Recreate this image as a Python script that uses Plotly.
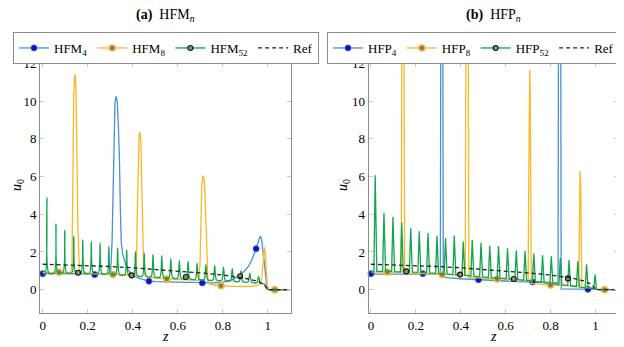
import plotly.graph_objects as go

# ---------------- data ----------------
# panel (a) HFM_n
hfm4_x = [0, 0.1, 0.2, 0.28, 0.295, 0.302, 0.308, 0.312, 0.317, 0.321, 0.326, 0.331, 0.336, 0.341,
          0.345, 0.349, 0.355, 0.361, 0.37, 0.379, 0.39, 0.409, 0.43, 0.468, 0.5, 0.6, 0.7, 0.76,
          0.8, 0.84, 0.87, 0.895, 0.914, 0.93, 0.947, 0.958, 0.966, 0.972, 0.978, 0.984, 0.99,
          0.996, 1.004, 1.1]
hfm4_y = [0.85, 0.83, 0.82, 0.83, 0.9, 1.0, 2.5, 5.5, 8.5, 9.9, 10.25, 10.0, 8.7, 6.9,
          4.2, 2.5, 1.9, 1.6, 1.3, 1.06, 0.88, 0.71, 0.6, 0.47, 0.43, 0.4, 0.36, 0.36,
          0.4, 0.52, 0.71, 0.98, 1.24, 1.6, 2.16, 2.6, 2.83, 2.7, 2.1, 1.3, 0.6,
          0.18, 0, 0]

hfm8_x = [0, 0.07, 0.125, 0.13, 0.133, 0.136, 0.138, 0.142, 0.145, 0.148, 0.15, 0.153, 0.156,
          0.159, 0.163, 0.2, 0.31, 0.405, 0.413, 0.417, 0.42, 0.424, 0.428, 0.432, 0.436, 0.44,
          0.444, 0.448, 0.453, 0.47, 0.5, 0.55, 0.62, 0.69, 0.695, 0.699, 0.703, 0.707, 0.712,
          0.717, 0.721, 0.725, 0.729, 0.734, 0.74, 0.79, 0.85, 0.9, 0.95, 0.965, 0.972, 0.977,
          0.981, 0.985, 0.989, 0.993, 0.997, 1.003, 1.1]
hfm8_y = [0.92, 0.92, 0.9, 1.3, 4.5, 8.5, 10.3, 11.3, 11.4, 10.5, 9.5, 6.5, 3.5,
          1.5, 1.0, 0.86, 0.8, 0.78, 0.8, 1.5, 4.0, 7.0, 8.2, 8.35, 7.8, 5.5,
          3.0, 1.4, 0.8, 0.66, 0.62, 0.57, 0.53, 0.5, 0.5, 1.5, 4.2, 5.6, 6.05,
          5.9, 5.0, 3.5, 1.5, 0.5, 0.3, 0.21, 0.18, 0.17, 0.2, 0.3, 0.5, 1.3,
          2.1, 2.25, 1.9, 1.0, 0.3, 0.02, 0]

hfm52_x = [0, 0.011, 0.019, 0.027, 0.051, 0.059, 0.067, 0.09, 0.098, 0.106, 0.13, 0.138, 0.146,
           0.17, 0.178, 0.186, 0.208, 0.216, 0.224, 0.247, 0.255, 0.263, 0.286, 0.294, 0.302,
           0.325, 0.333, 0.341, 0.365, 0.373, 0.381, 0.404, 0.412, 0.42, 0.443, 0.451, 0.459,
           0.482, 0.49, 0.498, 0.521, 0.529, 0.537, 0.561, 0.569, 0.577, 0.599, 0.607, 0.615,
           0.638, 0.646, 0.654, 0.678, 0.686, 0.694, 0.717, 0.725, 0.733, 0.756, 0.764, 0.772,
           0.795, 0.803, 0.811, 0.834, 0.842, 0.85, 0.873, 0.881, 0.889, 0.912, 0.92, 0.928,
           0.951, 0.959, 0.967, 0.985, 0.995, 1.003, 1.1]
hfm52_y = [0.85, 0.85, 4.86, 0.88, 0.88, 3.48, 0.9, 0.9, 3.15, 0.9, 0.9, 2.83, 0.9,
           0.89, 2.65, 0.89, 0.88, 2.56, 0.88, 0.86, 2.48, 0.86, 0.84, 2.3, 0.83,
           0.82, 2.21, 0.81, 0.79, 2.12, 0.78, 0.76, 2.02, 0.75, 0.73, 1.95, 0.72,
           0.7, 1.87, 0.69, 0.67, 1.8, 0.66, 0.64, 1.63, 0.63, 0.61, 1.54, 0.6,
           0.59, 1.5, 0.58, 0.56, 1.41, 0.55, 0.54, 1.33, 0.53, 0.52, 1.27, 0.51,
           0.5, 1.2, 0.49, 0.47, 1.11, 0.46, 0.44, 1.01, 0.43, 0.41, 0.88, 0.4,
           0.37, 0.71, 0.35, 0.3, 0.05, 0, 0]

# panel (b) HFP_n
hfp4_x = [0, 0.1, 0.2, 0.3, 0.309, 0.311, 0.32, 0.322, 0.35, 0.4, 0.48, 0.55, 0.65, 0.72, 0.8,
          0.833, 0.835, 0.845, 0.847, 0.9, 0.966, 0.99, 1.0, 1.1]
hfp4_y = [0.83, 0.83, 0.83, 0.83, 0.83, 14, 14, 0.68, 0.63, 0.58, 0.52, 0.47, 0.43, 0.41, 0.38,
          0.37, 14, 14, 0.04, 0.03, 0.02, 0.01, 0, 0]

hfp8_x = [0, 0.07, 0.135, 0.138, 0.147, 0.15, 0.2, 0.317, 0.42, 0.423, 0.433, 0.436, 0.5, 0.562,
          0.65, 0.7, 0.702, 0.705, 0.707, 0.709, 0.712, 0.714, 0.75, 0.8, 0.88, 0.925, 0.928,
          0.931, 0.934, 0.937, 0.939, 0.97, 0.99, 1.0, 1.04, 1.1]
hfp8_y = [0.93, 0.93, 0.92, 14, 14, 0.88, 0.86, 0.8, 0.78, 14, 14, 0.66, 0.62, 0.57,
          0.52, 0.5, 5, 11.0, 11.65, 10.5, 4, 0.33, 0.3, 0.25, 0.22, 0.2, 3,
          6.3, 5.5, 2, 0.12, 0.1, 0.08, 0.02, 0, 0]

hfp52_x = [0, 0.013, 0.019, 0.026, 0.052, 0.058, 0.065, 0.092, 0.098, 0.105, 0.131, 0.137, 0.144,
           0.171, 0.177, 0.184, 0.209, 0.215, 0.222, 0.248, 0.254, 0.261, 0.288, 0.294, 0.301,
           0.326, 0.332, 0.339, 0.365, 0.371, 0.378, 0.405, 0.411, 0.418, 0.445, 0.451, 0.458,
           0.484, 0.49, 0.497, 0.523, 0.529, 0.536, 0.562, 0.568, 0.575, 0.602, 0.608, 0.615,
           0.641, 0.647, 0.654, 0.68, 0.686, 0.693, 0.719, 0.725, 0.732, 0.758, 0.764, 0.771,
           0.797, 0.803, 0.81, 0.837, 0.843, 0.85, 0.876, 0.882, 0.889, 0.915, 0.921, 0.928,
           0.954, 0.96, 0.967, 0.992, 0.998, 1.004, 1.012, 1.1]
hfp52_y = [0.95, 0.95, 6.06, 0.97, 0.97, 4.07, 0.97, 0.97, 3.86, 0.96, 0.95, 3.57, 0.95,
           0.94, 3.26, 0.93, 0.92, 3.1, 0.91, 0.9, 3.0, 0.89, 0.87, 2.86, 0.86,
           0.84, 2.74, 0.83, 0.8, 2.87, 0.79, 0.77, 2.56, 0.76, 0.73, 2.65, 0.72,
           0.69, 2.49, 0.68, 0.65, 2.32, 0.64, 0.62, 2.32, 0.61, 0.58, 2.2, 0.57,
           0.54, 2.07, 0.53, 0.5, 2.05, 0.49, 0.45, 1.92, 0.44, 0.4, 1.82, 0.38,
           0.34, 1.77, 0.32, 0.28, 1.68, 0.26, 0.22, 1.57, 0.2, 0.16, 1.52, 0.14,
           0.11, 1.35, 0.09, 0.06, 0.8, 0.02, 0, 0]

# reference solution (same in both panels)
ref_x = [0, 0.1, 0.2, 0.3, 0.4, 0.5, 0.6, 0.7, 0.8, 0.9, 0.95, 0.98, 0.995, 1.0, 1.1]
ref_y = [1.35, 1.32, 1.28, 1.23, 1.16, 1.08, 0.99, 0.89, 0.78, 0.6, 0.46, 0.3, 0.1, 0, 0]

# marker positions
hfm4_mx, hfm4_my = [0, 0.231, 0.472, 0.709, 0.948], [0.85, 0.8, 0.45, 0.36, 2.17]
hfm8_mx, hfm8_my = [0.072, 0.312, 0.551, 0.792, 1.03], [0.92, 0.8, 0.57, 0.21, 0.0]
hfm52_mx, hfm52_my = [0.157, 0.395, 0.636, 0.877], [0.9, 0.76, 0.67, 0.71]
hfp4_mx, hfp4_my = [0, 0.231, 0.479, 0.72, 0.966], [0.85, 0.85, 0.53, 0.41, 0.02]
hfp8_mx, hfp8_my = [0.073, 0.317, 0.562, 0.80, 1.04], [0.94, 0.8, 0.57, 0.25, 0.0]
hfp52_mx, hfp52_my = [0.157, 0.397, 0.636, 0.877], [0.97, 0.8, 0.57, 0.6]

xticks = [0, 0.2, 0.4, 0.6, 0.8, 1]
xtick_text = ['0', '0.2', '0.4', '0.6', '0.8', '1']
yticks = [0, 2, 4, 6, 8, 10, 12]

# ---------------- styles ----------------
FONT = 'Liberation Serif, DejaVu Serif, serif'
BLUE, ORANGE, GREEN = '#4a90d4', '#fbb726', '#10a64e'
W, H = 624, 347
OFF = 8                      # the page body adds an 8px margin around the figure
FW, FH = W - OFF, H - OFF


def px(p):                   # screen x pixel -> paper fraction
    return (p - OFF) / FW


def py(p):                   # screen y pixel -> paper fraction
    return 1 - (p - OFF) / FH


blue_mk = dict(symbol='circle', size=6, color='#1212b8', line=dict(color='#3a5fd0', width=1))
orange_mk = dict(symbol='circle', size=6, color='#7a7a7a', line=dict(color=ORANGE, width=1.5))
green_mk = dict(symbol='circle', size=5, color='#8c946a', line=dict(color='#111111', width=1.1))

fig = go.Figure()


def add_panel(xa, ya, leg, names, series, markers, green_shape):
    colors = [BLUE, ORANGE, GREEN]
    mks = [blue_mk, orange_mk, green_mk]
    shapes = ['linear', 'linear', green_shape]
    for (sx, sy), (mx, my), c, mk, nm, shp in zip(series, markers, colors, mks, names, shapes):
        fig.add_trace(go.Scatter(x=sx, y=sy, mode='lines',
                                 line=dict(color=c, width=1.3, shape=shp, smoothing=0.7),
                                 xaxis=xa, yaxis=ya, showlegend=False, hoverinfo='skip'))
        fig.add_trace(go.Scatter(x=mx, y=my, mode='markers', marker=mk, cliponaxis=False,
                                 xaxis=xa, yaxis=ya, showlegend=False, hoverinfo='skip'))
        fig.add_trace(go.Scatter(x=[None], y=[None], mode='lines+markers', name=nm,
                                 line=dict(color=c, width=1.3), marker=mk,
                                 xaxis=xa, yaxis=ya, legend=leg))
    fig.add_trace(go.Scatter(x=ref_x, y=ref_y, mode='lines', name='Ref',
                             line=dict(color='#222222', width=1.3, dash='4px,3px'),
                             xaxis=xa, yaxis=ya, legend=leg, hoverinfo='skip'))


add_panel('x', 'y', 'legend',
          ['HFM<sub>4</sub>', 'HFM<sub>8</sub>', 'HFM<sub>52</sub>'],
          [(hfm4_x, hfm4_y), (hfm8_x, hfm8_y), (hfm52_x, hfm52_y)],
          [(hfm4_mx, hfm4_my), (hfm8_mx, hfm8_my), (hfm52_mx, hfm52_my)], 'spline')
add_panel('x2', 'y2', 'legend2',
          ['HFP<sub>4</sub>', 'HFP<sub>8</sub>', 'HFP<sub>52</sub>'],
          [(hfp4_x, hfp4_y), (hfp8_x, hfp8_y), (hfp52_x, hfp52_y)],
          [(hfp4_mx, hfp4_my), (hfp8_mx, hfp8_my), (hfp52_mx, hfp52_my)], 'linear')

ax_common = dict(showline=True, linecolor='#8c8c8c', linewidth=1, mirror='allticks',
                 ticks='inside', ticklen=4, tickcolor='#c8c8c8', showgrid=False,
                 zeroline=False, tickfont=dict(family=FONT, size=13, color='black'))
y0, y1 = py(313.3), py(63.3)

legend_style = dict(orientation='h', yanchor='top', y=py(32),
                    bordercolor='#8c8c8c', borderwidth=1, bgcolor='white',
                    font=dict(family=FONT, size=13, color='black'), itemwidth=30,
                    tracegroupgap=0)

fig.update_layout(
    width=FW, height=FH, margin=dict(l=0, r=0, t=0, b=0, autoexpand=False),
    paper_bgcolor='white', plot_bgcolor='white',
    xaxis=dict(domain=[px(40), px(291)], range=[-0.012, 1.103], anchor='y',
               tickvals=xticks, ticktext=xtick_text, **ax_common),
    yaxis=dict(domain=[y0, y1], range=[-1.25, 12], anchor='x', tickvals=yticks, **ax_common),
    xaxis2=dict(domain=[px(368.7), px(618)], range=[-0.01, 1.1], anchor='y2',
                tickvals=xticks, ticktext=xtick_text, **ax_common),
    yaxis2=dict(domain=[y0, y1], range=[-1.25, 12], anchor='x2', tickvals=yticks, **ax_common),
    legend=dict(x=px(166), xanchor='center', **legend_style),
    legend2=dict(x=px(620), xanchor='right', **legend_style),
)

txt = dict(family=FONT, size=14, color='black')
for cx, label in [(165.5, '<b>(a)</b>  HFM<sub><i>n</i></sub>'),
                  (493.4, '<b>(b)</b>  HFP<sub><i>n</i></sub>')]:
    fig.add_annotation(x=px(cx), y=py(15.5), xref='paper', yref='paper', text=label,
                       showarrow=False, font=txt, xanchor='center', yanchor='middle')
for cx in [165.5, 493.4]:
    fig.add_annotation(x=px(cx), y=py(336), xref='paper', yref='paper', text='<i>z</i>',
                       showarrow=False, font=txt, xanchor='center', yanchor='middle')
for cx in [17, 343]:
    fig.add_annotation(x=px(cx), y=py(185), xref='paper', yref='paper',
                       text='<i>u</i><sub>0</sub>', textangle=-90,
                       showarrow=False, font=txt, xanchor='center', yanchor='middle')

fig.write_html("out.html")
